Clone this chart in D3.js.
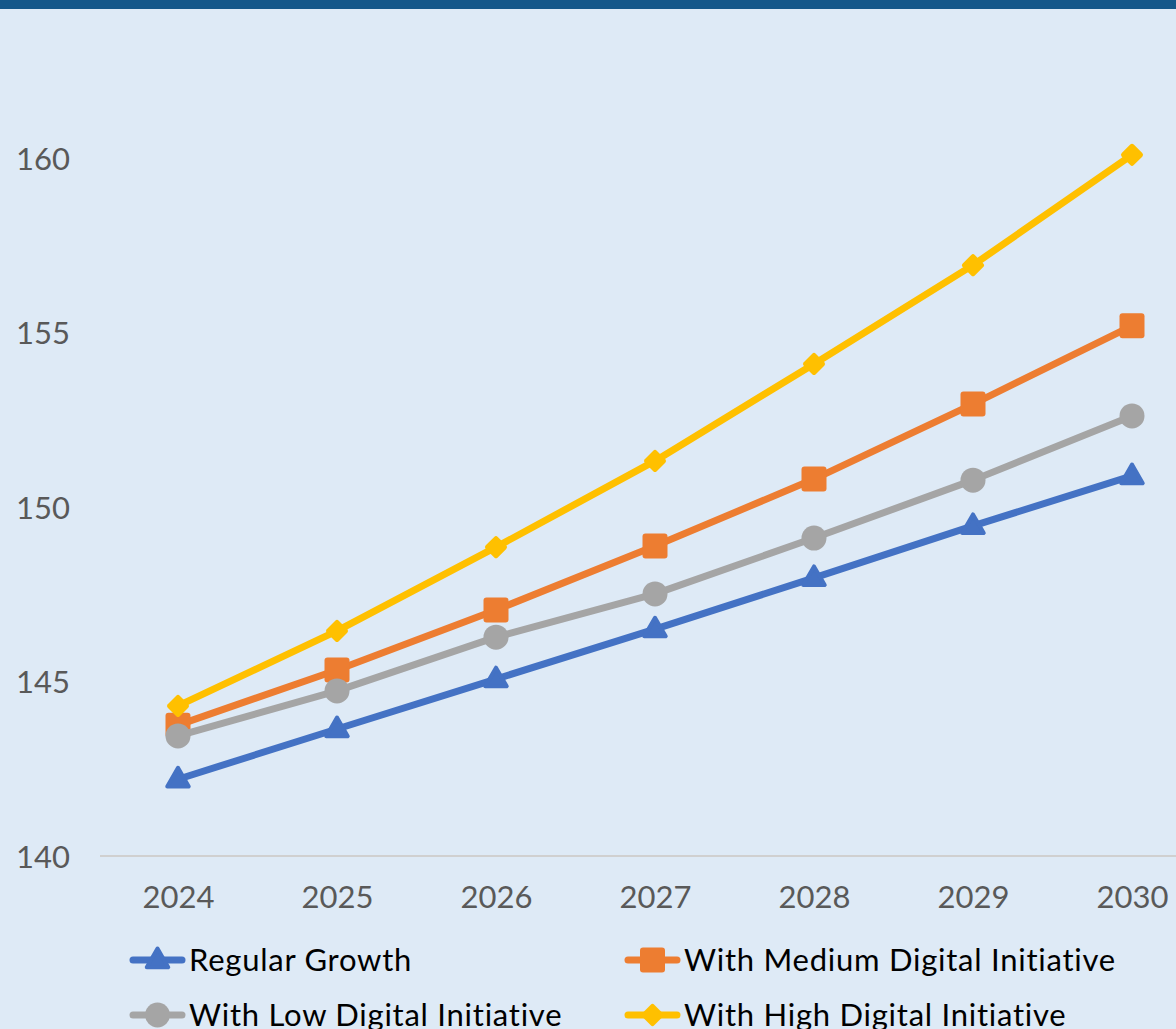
<!DOCTYPE html>
<html><head><meta charset="utf-8">
<script src="https://cdn.jsdelivr.net/npm/d3@7"></script>
<style>
html,body{margin:0;padding:0;background:#deeaf6;}
svg{display:block;font-family:Lato,"Open Sans",sans-serif;}
</style></head>
<body>
<svg id="c" width="1176" height="1029"></svg>
<script>
const years = ["2024","2025","2026","2027","2028","2029","2030"];
const seriesNames = ["Regular Growth","With Medium Digital Initiative","With Low Digital Initiative","With High Digital Initiative"];
const regularGrowth = [142.2, 143.64, 145.07, 146.5, 147.97, 149.46, 150.89];
const mediumDigital = [143.75, 145.33, 147.05, 148.88, 150.8, 152.95, 155.19];
const lowDigital = [143.44, 144.73, 146.27, 147.51, 149.11, 150.77, 152.61];
const highDigital = [144.3, 146.45, 148.85, 151.32, 154.1, 156.93, 160.09];
const yTicks = [140, 145, 150, 155, 160];

const colors = ["#4472C4","#ED7D31","#A5A5A5","#FFC000"];
const markers = ["triangle","square","circle","diamond"];
const seriesValues = [regularGrowth, mediumDigital, lowDigital, highDigital];

const svg = d3.select("#c");
svg.append("rect").attr("x",0).attr("y",0).attr("width",1176).attr("height",1029).attr("fill","#deeaf6");
svg.append("rect").attr("x",0).attr("y",0).attr("width",1176).attr("height",9).attr("fill","#15588a");

const x = d3.scalePoint().domain(years).range([178,1132]);
const y = d3.scaleLinear().domain([140,160]).range([856,158]);

// baseline
svg.append("line").attr("x1",100).attr("x2",1176).attr("y1",y(140)).attr("y2",y(140))
  .attr("stroke","#d0d0d0").attr("stroke-width",2);

// y axis
const yAxis = d3.axisLeft(y).tickValues(yTicks).tickSize(0).tickPadding(0).tickFormat(d3.format("d"));
const gy = svg.append("g").attr("transform","translate(70,0)").call(yAxis);
gy.select(".domain").remove();
gy.selectAll("text").attr("font-size",31).attr("fill","#595959").attr("font-family","Lato,sans-serif").attr("dy","0.36em");

// x axis
const xAxis = d3.axisBottom(x).tickSize(0).tickPadding(0);
const gx = svg.append("g").attr("transform","translate(0,"+y(140)+")").call(xAxis);
gx.select(".domain").remove();
gx.selectAll("text").attr("font-size",31).attr("fill","#595959").attr("font-family","Lato,sans-serif").attr("dy","52");

function drawMarker(g, type, color){
  if(type==="triangle"){
    g.append("path").attr("d", d3.symbol().type(d3.symbolTriangle).size(200)())
      .attr("transform","translate(0,1)")
      .attr("fill",color).attr("stroke",color).attr("stroke-width",4).attr("stroke-linejoin","round");
  } else if(type==="square"){
    g.append("rect").attr("x",-12.5).attr("y",-12.5).attr("width",25).attr("height",25).attr("rx",3)
      .attr("fill",color);
  } else if(type==="circle"){
    g.append("circle").attr("r",12.5).attr("fill",color);
  } else {
    g.append("rect").attr("x",-8.5).attr("y",-8.5).attr("width",17).attr("height",17).attr("rx",2.5)
      .attr("transform","rotate(45)").attr("fill",color);
  }
}

const line = d3.line().x((d,i)=>x(years[i])).y(d=>y(d));
seriesValues.forEach((vals, si)=>{
  const g = svg.append("g");
  g.append("path").attr("d", line(vals)).attr("fill","none").attr("stroke",colors[si])
    .attr("stroke-width",7).attr("stroke-linejoin","round").attr("stroke-linecap","round");
  vals.forEach((v,i)=>{
    const mg = g.append("g").attr("transform","translate("+x(years[i])+","+y(v)+")");
    drawMarker(mg, markers[si], colors[si]);
  });
});

// legend
const legendPos = [[130,960],[625,960],[130,1015],[625,1015]];
seriesNames.forEach((name, si)=>{
  const [lx, ly] = legendPos[si];
  const g = svg.append("g").attr("transform","translate("+lx+","+ly+")");
  g.append("line").attr("x1",3).attr("x2",52).attr("y1",0).attr("y2",0)
    .attr("stroke",colors[si]).attr("stroke-width",7).attr("stroke-linecap","round");
  const mg = g.append("g").attr("transform","translate(27.5,0)");
  drawMarker(mg, markers[si], colors[si]);
  g.append("text").attr("x",59).attr("y",0).attr("dy","0.36em").attr("font-size",31)
    .attr("letter-spacing","0.75px").attr("fill","#000").text(name);
});
</script>
</body></html>
